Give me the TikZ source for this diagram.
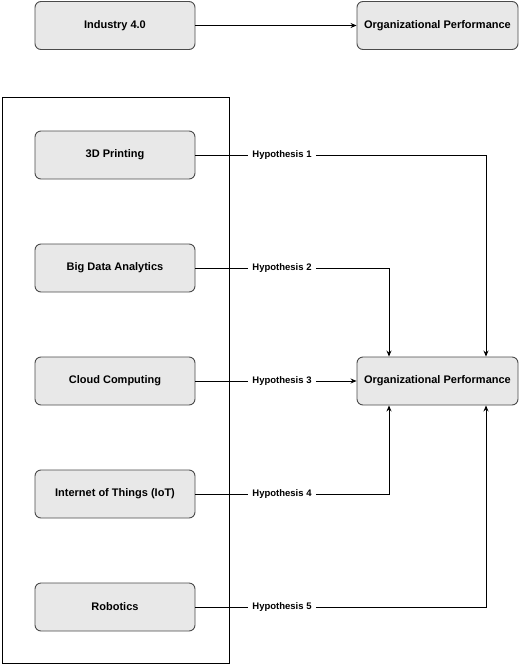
\documentclass[tikz,border=0pt]{standalone}
\usepackage{fontspec}
\setmainfont{Liberation Sans}
\usetikzlibrary{arrows.meta}

\definecolor{boxfill}{HTML}{E8E8E8}
\definecolor{boxline}{HTML}{4A4A4A}

\tikzstyle{factor}=[draw=boxline,fill=boxfill,rounded corners=6pt,line width=0.9pt,minimum width=160pt,minimum height=48pt,inner sep=0pt,font=\fontsize{11}{13}\selectfont\bfseries]
\tikzstyle{hyp}=[fill=white,inner sep=4pt,font=\fontsize{9.5}{11}\selectfont\bfseries]
\tikzstyle{link}=[line width=0.9pt,black]
\tikzstyle{arr}=[line width=0.9pt,black,-{Stealth[length=6pt,width=5pt]}]

\begin{document}
\begin{tikzpicture}[x=1pt,y=-1pt]
    \useasboundingbox (0,0) rectangle (520,665);

    % top model
    \node[factor] (ind) at (115,25.5) {Industry 4.0};
    \node[factor,minimum width=161pt] (opTop) at (437.5,25.5) {Organizational Performance};
    \draw[arr] (ind) -- (opTop);

    % grouping frame
    \node[draw,line width=0.9pt,minimum width=227pt,minimum height=566pt,inner sep=0pt] (frame) at (115.5,380) {};

    % technologies
    \node[factor] (print) at (115,155) {3D Printing};
    \node[factor] (bigdata) at (115,268) {Big Data Analytics};
    \node[factor] (cloud) at (115,381) {Cloud Computing};
    \node[factor] (iot) at (115,494) {Internet of Things (IoT)};
    \node[factor] (robot) at (115,607) {Robotics};

    \node[factor,minimum width=161pt] (op) at (437.5,381) {Organizational Performance};

    % hypothesis labels
    \node[hyp] (h1) at (282,155) {Hypothesis 1};
    \node[hyp] (h2) at (282,268) {Hypothesis 2};
    \node[hyp] (h3) at (282,381) {Hypothesis 3};
    \node[hyp] (h4) at (282,494) {Hypothesis 4};
    \node[hyp] (h5) at (282,607) {Hypothesis 5};

    \coordinate (c1) at (486,155);
    \coordinate (c2) at (389,268);
    \coordinate (c4) at (389,494);
    \coordinate (c5) at (486,607);

    \draw[link] (print) -- (h1);
    \draw[arr] (h1) -- (c1) -- (c1 |- op.north);
    \draw[link] (bigdata) -- (h2);
    \draw[arr] (h2) -- (c2) -- (c2 |- op.north);
    \draw[link] (cloud) -- (h3);
    \draw[arr] (h3) -- (op);
    \draw[link] (iot) -- (h4);
    \draw[arr] (h4) -- (c4) -- (c4 |- op.south);
    \draw[link] (robot) -- (h5);
    \draw[arr] (h5) -- (c5) -- (c5 |- op.south);

\end{tikzpicture}
\end{document}
